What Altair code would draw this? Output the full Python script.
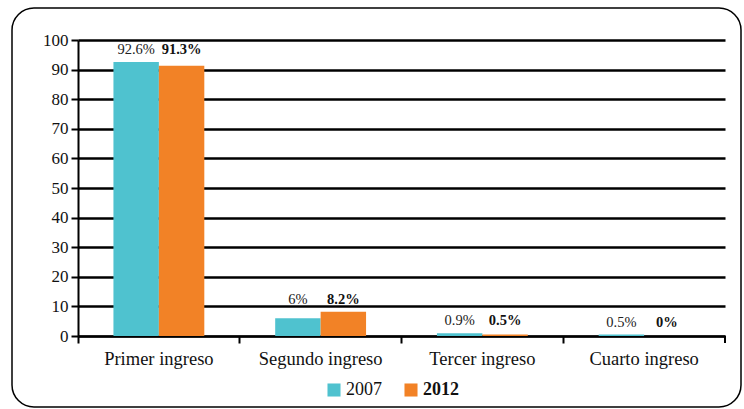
import altair as alt
import pandas as pd

categories = ["Primer ingreso", "Segundo ingreso", "Tercer ingreso", "Cuarto ingreso"]
years = ["2007", "2012"]
values_2007 = [92.6, 6, 0.9, 0.5]
values_2012 = [91.3, 8.2, 0.5, 0]
colors = ["#4FC2CF", "#F28226"]

rows = []
for c, a, b in zip(categories, values_2007, values_2012):
    rows.append({"cat": c, "year": "2007", "value": a})
    rows.append({"cat": c, "year": "2012", "value": b})
df = pd.DataFrame(rows)

W, H = 647, 296
FONT = "Liberation Serif"

x_enc = alt.X(
    "cat:N", sort=categories, title=None,
    scale=alt.Scale(paddingInner=0, paddingOuter=0),
    axis=alt.Axis(
        bandPosition=0, labelAngle=0, labelFont=FONT,
        labelFontSize=18.5, labelColor="#111", labelPadding=6,
        tickSize=7, tickWidth=2, tickColor="black",
        domainColor="black", domainWidth=2, grid=False,
    ),
)
y_axis = alt.Axis(values=list(range(0, 101, 10)), labelFont=FONT,
                  labelFontSize=17, labelColor="#111", labelPadding=3,
                  labelOverlap=False,
                  tickSize=7, tickWidth=2, tickColor="black",
                  domainColor="black", domainWidth=2,
                  grid=True, gridColor="black", gridWidth=2.5,
                  gridOpacity=1)
y_scale = alt.Scale(domain=[0, 100])
xoff = alt.XOffset("year:N", sort=years,
                   scale=alt.Scale(paddingInner=0, paddingOuter=0.78))

base = alt.Chart(df).encode(x=x_enc, xOffset=xoff)

bars = base.mark_bar().encode(
    y=alt.Y("value:Q", title=None, scale=y_scale, axis=y_axis),
    color=alt.Color("year:N", sort=years,
                    scale=alt.Scale(domain=years, range=colors),
                    legend=alt.Legend(
                        title=None, orient="none", direction="horizontal",
                        legendX=247, legendY=341, symbolType="square",
                        symbolSize=170, symbolStrokeWidth=0,
                        labelFont=FONT, labelFontSize=18, labelColor="#111",
                        labelFontWeight=alt.ExprRef(
                            "datum.label == '2012' ? 'bold' : 'normal'"),
                        columnPadding=20, labelOffset=3)),
)

txt = base.transform_joinaggregate(
    ymax="max(value)", groupby=["cat"]
).transform_calculate(lbl="datum.value + '%'").encode(
    y=alt.Y("ymax:Q", title=None, scale=y_scale, axis=y_axis),
    text="lbl:N",
)
t07 = txt.transform_filter("datum.year == '2007'").mark_text(
    dy=-8, baseline="alphabetic", font=FONT, fontSize=14.5, color="#222"
)
t12 = txt.transform_filter("datum.year == '2012'").mark_text(
    dy=-8, baseline="alphabetic", font=FONT, fontSize=14.5, color="#111",
    fontWeight="bold"
)

end_tick = alt.Chart(alt.Data(values=[{}])).mark_rule(
    color="black", strokeWidth=2
).encode(x=alt.value(W), y=alt.value(H), y2=alt.value(H + 7))

frame = alt.Chart(alt.Data(values=[{}])).mark_rect(
    fill=None, fillOpacity=0, stroke="black", strokeWidth=1.5, cornerRadius=22
).encode(x=alt.value(-66), x2=alt.value(663), y=alt.value(-32), y2=alt.value(367))

chart = alt.layer(frame, bars, t07, t12, end_tick).properties(
    width=W, height=H,
    autosize=alt.AutoSizeParams(type="none"),
    padding={"left": 78, "top": 40, "right": 19, "bottom": 73},
).configure(
    font=FONT, background="white"
).configure_axis(
    labelFont=FONT
).configure_legend(
    labelFont=FONT
).configure_view(stroke=None)

chart.save("out.html", embed_options={"renderer": "svg", "actions": False})
